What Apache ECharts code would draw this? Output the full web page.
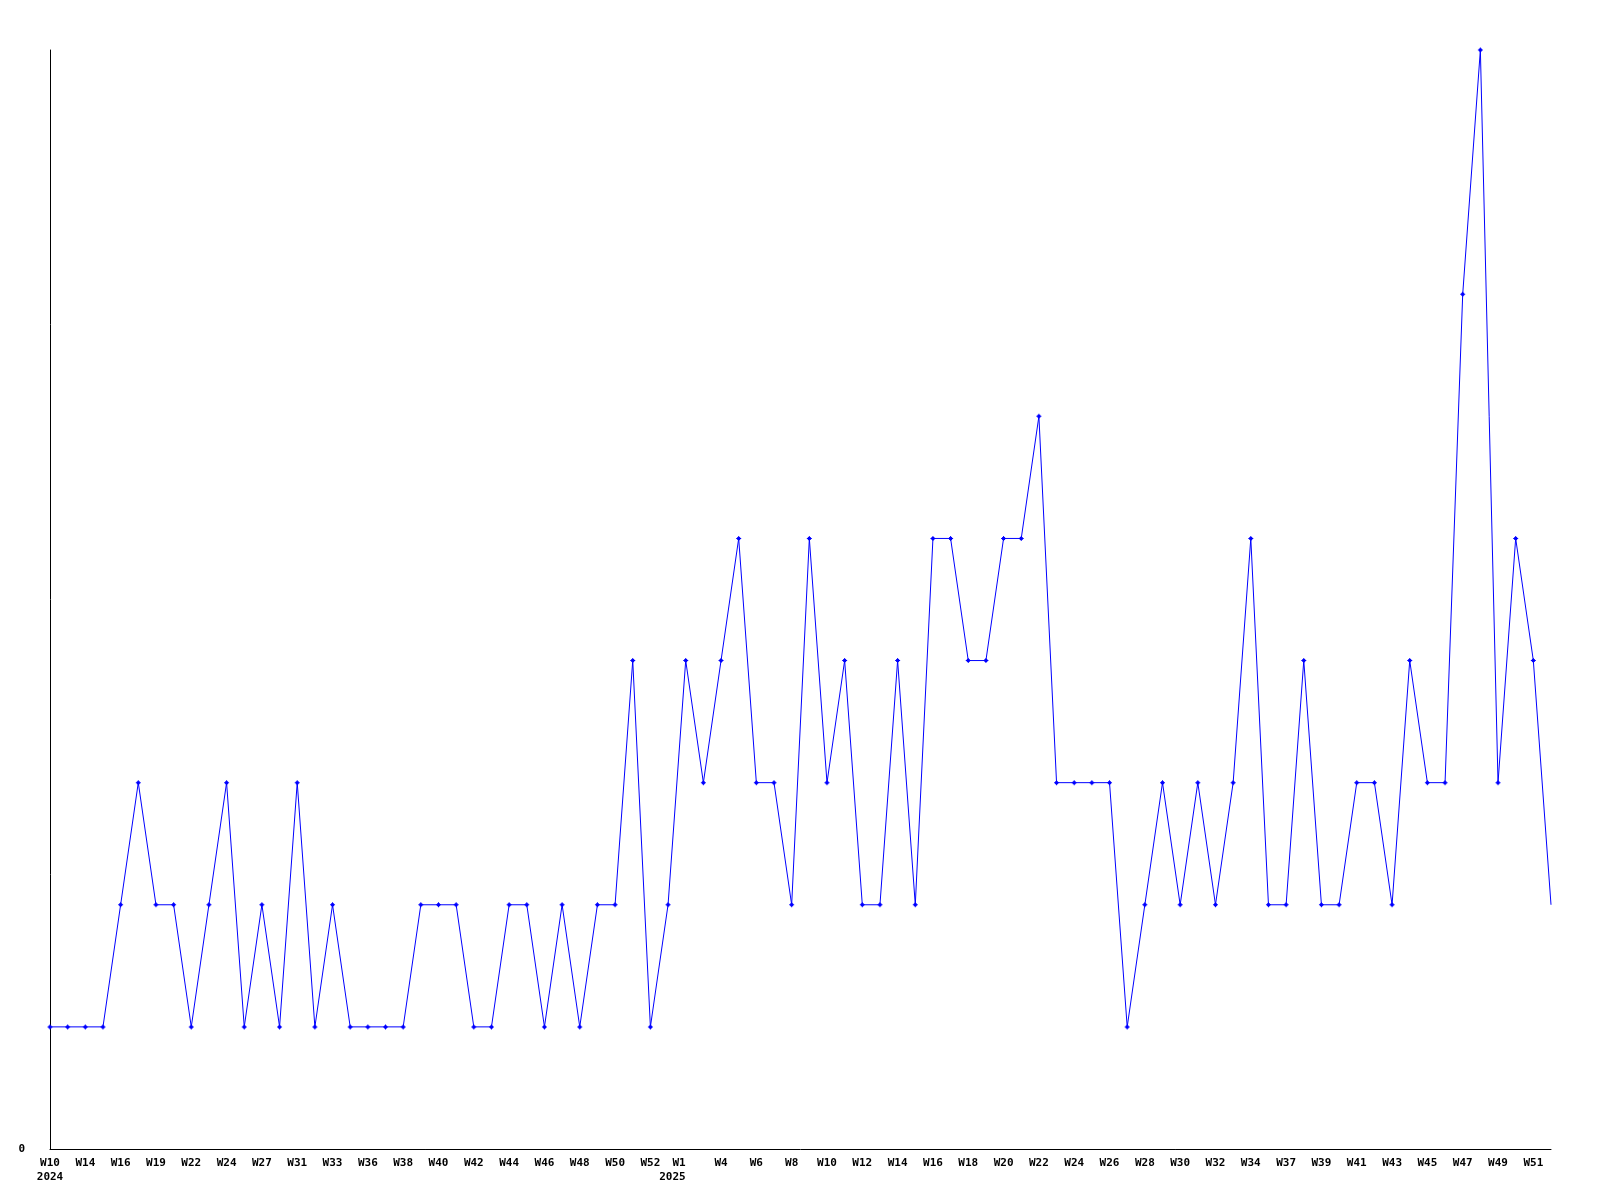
<!DOCTYPE html>
<html>
<head>
<meta charset="utf-8">
<script src="https://cdn.jsdelivr.net/npm/echarts@6/dist/echarts.min.js"></script>
<style>
html,body{margin:0;padding:0;background:#fff;}
#chart{width:1600px;height:1200px;}
</style>
</head>
<body>
<div id="chart"></div>
<script>
// Week categories (2024 W10 .. 2025 W52); only every second one is labelled in the picture
const weeks = [
  'W10','W12','W14','W15','W16','W18','W19','W20','W22','W23',
  'W24','W26','W27','W29','W31','W32','W33','W35','W36','W37',
  'W38','W39','W40','W41','W42','W43','W44','W45','W46','W47',
  'W48','W49','W50','W51','W52','W53',
  'W1','W3','W4','W5','W6','W7','W8','W9','W10','W11',
  'W12','W13','W14','W15','W16','W17','W18','W19','W20','W21',
  'W22','W23','W24','W25','W26','W27','W28','W29','W30','W31',
  'W32','W33','W34','W36','W37','W38','W39','W40','W41','W42',
  'W43','W44','W45','W46','W47','W48','W49','W50','W51','W52'
];
// Year captions and the category index where each appears
const yearIndex = [0, 36];
const yearText = ['2024', '2025'];
// Weekly counts
const values = [
  1,1,1,1,2,3,2,2,1,2,
  3,1,2,1,3,1,2,1,1,1,
  1,2,2,2,1,1,2,2,1,2,
  1,2,2,4,1,2,
  4,3,4,5,3,3,2,5,3,4,
  2,2,4,2,5,5,4,4,5,5,
  6,3,3,3,3,1,2,3,2,3,
  2,3,5,2,2,4,2,2,3,3,
  2,4,3,3,7,9,3,5,4,2
];
const yTicks = [0];

const chart = echarts.init(document.getElementById('chart'), null, {renderer: 'canvas'});
const plus = 'path://M2,0L3,0L3,1L4,1L4,2L5,2L5,3L4,3L4,4L3,4L3,5L2,5L2,4L1,4L1,3L0,3L0,2L1,2L1,1L2,1Z';
const font = 'DejaVu Sans Mono';

chart.setOption({
  animation: false,
  backgroundColor: '#ffffff',
  grid: {left: 50, right: 49, top: 50, bottom: 51, containLabel: false},
  xAxis: {
    type: 'category',
    boundaryGap: false,
    data: weeks.map((w, i) => i === yearIndex[1] ? {value: w, textStyle: {align: 'right'}} : w),
    axisLine: {show: true, lineStyle: {color: '#000', width: 1}},
    axisTick: {show: false},
    splitLine: {show: false},
    axisLabel: {
      interval: 1,
      margin: 7,
      color: '#000',
      fontFamily: font,
      fontWeight: 'bold',
      fontSize: 11,
      lineHeight: 14,
      formatter: function (val, idx) {
        const k = yearIndex.indexOf(idx);
        return k >= 0 ? val + '\n' + yearText[k] : val;
      }
    }
  },
  yAxis: {
    type: 'value',
    min: 0,
    max: 9,
    interval: 9,
    axisLine: {show: true, lineStyle: {color: '#000', width: 1}},
    axisTick: {show: false},
    splitLine: {show: false},
    axisLabel: {
      margin: 25,
      color: '#000',
      fontFamily: font,
      fontWeight: 'bold',
      fontSize: 11,
      formatter: v => yTicks.indexOf(v) >= 0 ? String(v) : ''
    }
  },
  series: [{
    type: 'line',
    data: values.map((v, i) => i === values.length - 1 ? {value: v, symbol: 'none'} : v),
    symbol: plus,
    symbolSize: 5,
    showSymbol: true,
    showAllSymbol: true,
    itemStyle: {color: '#0000ff'},
    lineStyle: {color: '#0000ff', width: 1},
    emphasis: {disabled: true}
  }]
});
</script>
</body>
</html>
